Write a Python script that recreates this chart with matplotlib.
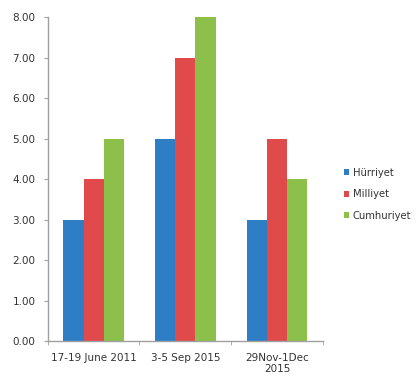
import matplotlib
matplotlib.use("Agg")
import matplotlib.pyplot as plt
import numpy as np

categories = ["17-19 June 2011", "3-5 Sep 2015", "29Nov-1Dec\n2015"]
series_names = ["Hürriyet", "Milliyet", "Cumhuriyet"]
hurriyet = [3.0, 5.0, 3.0]
milliyet = [4.0, 7.0, 5.0]
cumhuriyet = [5.0, 8.0, 4.0]
yticks = [0, 1, 2, 3, 4, 5, 6, 7, 8]

colors = ["#2E7EC6", "#E04A4A", "#8CC04A"]

fig = plt.figure(figsize=(4.16, 3.81), dpi=100)
ax = fig.add_axes([0.115, 0.105, 0.661, 0.850])

x = np.arange(len(categories))
w = 0.22
for i, (vals, name) in enumerate(zip([hurriyet, milliyet, cumhuriyet], series_names)):
    ax.bar(x + (i - 1) * w, vals, width=w, color=colors[i], label=name, linewidth=0)

ax.set_xlim(-0.5, 2.5)
ax.set_ylim(0, 8)
ax.set_yticks(yticks)
ax.set_yticklabels([f"{v:.2f}" for v in yticks])
ax.set_xticks(x)
ax.set_xticklabels(categories, linespacing=1.1)
ax.set_xticks([-0.5, 0.5, 1.5, 2.5], minor=True)
ax.tick_params(axis="x", which="major", length=0, labelsize=7.5, colors="#333333", pad=9)
ax.tick_params(axis="x", which="minor", length=3, color="#A0A0A0")
ax.tick_params(axis="y", length=3, color="#A0A0A0", labelsize=7.5, labelcolor="#333333", pad=6)
for s in ["top", "right"]:
    ax.spines[s].set_visible(False)
for s in ["left", "bottom"]:
    ax.spines[s].set_color("#A0A0A0")
    ax.spines[s].set_linewidth(1.0)

fig.legend(loc="center left", bbox_to_anchor=(0.805, 0.49), frameon=False,
           fontsize=7.2, handlelength=0.55, handleheight=0.55, handletextpad=0.35,
           labelspacing=1.15, labelcolor="#333333")

fig.savefig("out.png", dpi=100)
